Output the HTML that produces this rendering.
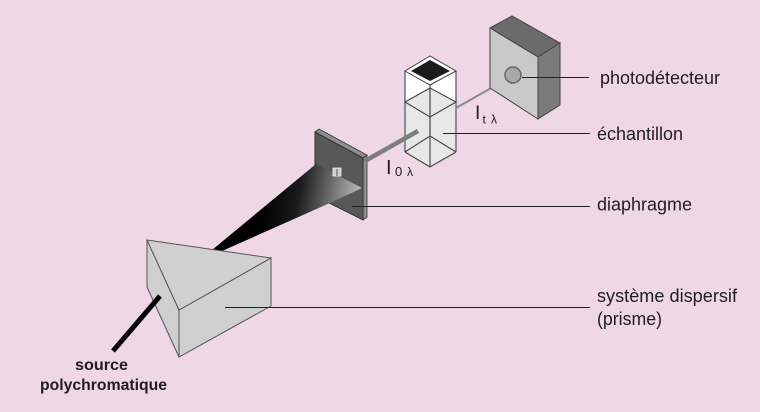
<!DOCTYPE html>
<html>
<head>
<meta charset="utf-8">
<style>
  html, body { margin:0; padding:0; background:#efd7e5; }
  svg { display:block; }
  text { font-family: "Liberation Sans", Arial, sans-serif; fill:#1e1e1e; }
</style>
</head>
<body>
<svg width="760" height="412" viewBox="0 0 760 412" xmlns="http://www.w3.org/2000/svg">
  <defs>
    <linearGradient id="beam" gradientUnits="userSpaceOnUse" x1="265" y1="185" x2="362" y2="200">
      <stop offset="0" stop-color="#000"/>
      <stop offset="0.35" stop-color="#1a1a1a"/>
      <stop offset="1" stop-color="#c2c2c2"/>
    </linearGradient>
  </defs>
  <rect x="0" y="0" width="760" height="412" fill="#efd7e5"/>

  <!-- Diaphragm plate -->
  <polygon points="315,132 319,129 367,155 363,158" fill="#8e8e8e" stroke="#333" stroke-width="0.8"/>
  <polygon points="363,158 367,155 367,217 363,220" fill="#8e8e8e" stroke="#333" stroke-width="0.8"/>
  <polygon points="315,132 363,158 363,220 315,196" fill="#585858" stroke="#333" stroke-width="1"/>

  <!-- Beam cone -->
  <polygon points="212,250 316,164 362,188 330,203 222,251" fill="url(#beam)"/>
  <!-- hole -->
  <rect x="333" y="168" width="8" height="8" fill="#cfcfcf" stroke="#eee" stroke-width="0.8"/>
  <line x1="337" y1="169" x2="337" y2="176" stroke="#555" stroke-width="1"/>

  <!-- Prism -->
  <polygon points="147,240 179,310 179,357 147,287" fill="#cfcfcf" stroke="#555" stroke-width="1"/>
  <polygon points="179,310 271,258 271,306 179,357" fill="#cfcfcf" stroke="#555" stroke-width="1"/>
  <polygon points="147,240 271,258 179,310" fill="#d0d0d0" stroke="#555" stroke-width="1"/>

  <!-- Source line -->
  <line x1="113" y1="351" x2="160" y2="296" stroke="#000" stroke-width="5"/>

  <!-- Cuvette -->
  <polygon points="405,102 430,88 456,102 456,152 430,167 405,152" fill="#e7e7e7"/>
  <polygon points="405,71 430,85 456,71 456,102 430,88 405,102" fill="#ffffff"/>
  <polygon points="430,56 405,71 430,85 456,71" fill="#ffffff" stroke="#444" stroke-width="1"/>
  <polygon points="430,60 411,71 430,81 450,71" fill="#1c1c1c"/>
  <g stroke="#444" stroke-width="1.1" fill="none">
    <line x1="405" y1="71" x2="405" y2="152"/>
    <line x1="456" y1="71" x2="456" y2="152"/>
    <line x1="430" y1="85" x2="430" y2="167"/>
    <polyline points="405,152 430,167 456,152"/>
    <polygon points="405,102 430,88 456,102 430,117"/>
    <polyline points="405,152 430,136 456,152"/>
    <line x1="430" y1="88" x2="430" y2="136"/>
  </g>

  <!-- I0 beam -->
  <line x1="365" y1="161" x2="418" y2="131" stroke="#7d7d7d" stroke-width="4.5"/>

  <!-- It beam -->
  <line x1="456" y1="108" x2="507" y2="79" stroke="#8a8a8a" stroke-width="2"/>

  <!-- Detector -->
  <polygon points="490,28 512,16 560,43 538,57" fill="#6b6b6b" stroke="#444" stroke-width="1"/>
  <polygon points="538,57 560,43 560,105 538,119" fill="#7b7b7b" stroke="#444" stroke-width="1"/>
  <polygon points="490,28 538,57 538,119 490,88" fill="#c9c9c9" stroke="#444" stroke-width="1"/>
  <circle cx="513" cy="75" r="8" fill="#a9a9a9" stroke="#666" stroke-width="1.5"/>

  <!-- label lines -->
  <g stroke="#222" stroke-width="1">
    <line x1="522" y1="77.5" x2="589" y2="77.5"/>
    <line x1="443" y1="133.5" x2="590" y2="133.5"/>
    <line x1="352" y1="206.5" x2="590" y2="206.5"/>
    <line x1="225" y1="307.5" x2="590" y2="307.5"/>
  </g>

  <!-- I labels -->
  <text x="386" y="174" font-size="20" fill="#333">I</text>
  <text x="395" y="176" font-size="13" fill="#333">0</text>
  <text x="407" y="176" font-size="12" fill="#333">λ</text>

  <text x="475" y="119" font-size="19" fill="#333">I</text>
  <text x="482.5" y="123.5" font-size="12" fill="#333">t</text>
  <text x="491" y="123.5" font-size="12" fill="#333">λ</text>

  <!-- Right labels -->
  <text x="600" y="84" font-size="18" textLength="120" lengthAdjust="spacingAndGlyphs">photodétecteur</text>
  <text x="597" y="140" font-size="18" textLength="86" lengthAdjust="spacingAndGlyphs">échantillon</text>
  <text x="597" y="210.5" font-size="18" textLength="95" lengthAdjust="spacingAndGlyphs">diaphragme</text>
  <text x="597" y="302" font-size="18" textLength="140" lengthAdjust="spacingAndGlyphs">système dispersif</text>
  <text x="597" y="325" font-size="18" textLength="65" lengthAdjust="spacingAndGlyphs">(prisme)</text>

  <!-- Source label -->
  <text x="101.5" y="370" font-size="16" font-weight="bold" text-anchor="middle" textLength="53" lengthAdjust="spacingAndGlyphs">source</text>
  <text x="103.5" y="390" font-size="16" font-weight="bold" text-anchor="middle" textLength="127" lengthAdjust="spacingAndGlyphs">polychromatique</text>
</svg>
</body>
</html>
